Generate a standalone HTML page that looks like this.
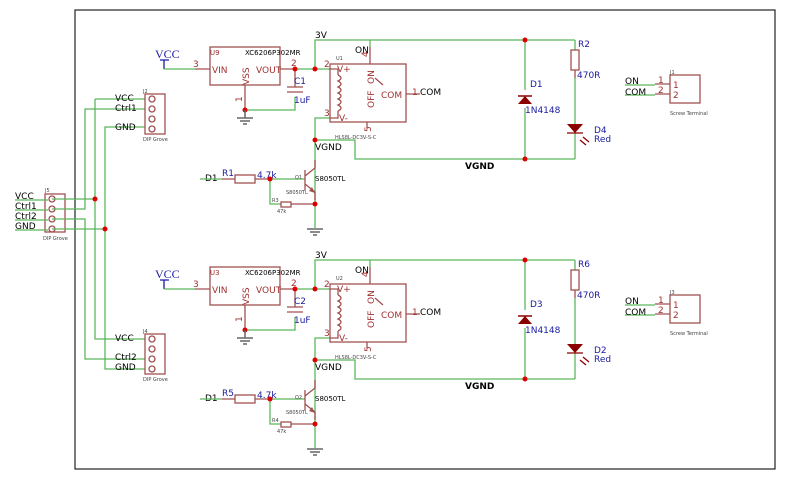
<!DOCTYPE html>
<html><head><meta charset="utf-8"><style>
html,body{margin:0;padding:0;background:#fff}
svg{display:block}
text{font-family:"DejaVu Sans","Liberation Sans",sans-serif}
.r{stroke:#a05050;fill:none;stroke-width:1.3}
.g{stroke:#5cb85c;fill:none;stroke-width:1.3}
.k{font-size:9px;fill:#000}
.b{font-size:9px;fill:#1a1aa0}
.m{font-size:9px;fill:#a03030}
.t{font-size:5px;fill:#444}
.gn{stroke:#666;stroke-width:1.5}
.vcc{font-family:"Liberation Serif",serif !important;font-size:12px;fill:#1a1aa0}
</style></head><body>
<svg width="785" height="480" viewBox="0 0 785 480" xmlns="http://www.w3.org/2000/svg">
<rect x="75" y="10" width="700" height="459" fill="none" stroke="#222" stroke-width="1.2"/>

<!-- Left connector -->
<rect class="r" x="45" y="194" width="20" height="38"/>
<text class="t" x="45" y="192">J5</text>
<g class="r"><circle cx="52" cy="199" r="3"/><circle cx="52" cy="209" r="3"/><circle cx="52" cy="219" r="3"/><circle cx="52" cy="229" r="3"/></g>
<text class="t" x="43" y="240">DIP Grove</text>
<text class="k" x="15" y="199">VCC</text><text class="k" x="15" y="209">Ctrl1</text><text class="k" x="15" y="219">Ctrl2</text><text class="k" x="15" y="229">GND</text>
<path class="g" d="M15 200H48 M15 210H48 M15 220H48 M15 230H48"/>
<path class="g" d="M52 199H95 M52 209H85V109H145 M52 219H85V359H145 M52 229H105V127H145 M95 99V339H145 M95 99H145 M105 229V369H145"/>
<circle cx="95" cy="199" r="2.5" fill="#d00"/><circle cx="105" cy="229" r="2.5" fill="#d00"/>

<rect class="r" x="145" y="94" width="20" height="40"/>
<text class="t" x="143" y="93">J2</text>
<g class="r"><circle cx="152" cy="99" r="3"/><circle cx="152" cy="109" r="3"/><circle cx="152" cy="119" r="3"/><circle cx="152" cy="129" r="3"/></g>
<text class="t" x="143" y="141">DIP Grove</text>
<text class="k" x="115" y="101">VCC</text><text class="k" x="115" y="111">Ctrl1</text><text class="k" x="115" y="130">GND</text>

<rect class="r" x="145" y="334" width="20" height="40"/>
<text class="t" x="143" y="333">J4</text>
<g class="r"><circle cx="152" cy="339" r="3"/><circle cx="152" cy="349" r="3"/><circle cx="152" cy="359" r="3"/><circle cx="152" cy="369" r="3"/></g>
<text class="t" x="143" y="381">DIP Grove</text>
<text class="k" x="115" y="341">VCC</text><text class="k" x="115" y="360">Ctrl2</text><text class="k" x="115" y="370">GND</text>

<g id="top">
<text class="vcc" x="155" y="58">VCC</text>
<path d="M160 60H169 M164 60V69" stroke="#1a1aa0" stroke-width="1.3"/>
<path class="g" d="M164 69H195"/>
<rect class="r" x="210" y="47" width="70" height="38"/>
<path class="r" d="M195 69H210 M280 69H295 M245 85V110"/>
<text x="210" y="55" style="font-size:7px" fill="#a03030">U9</text><text x="245" y="55" style="font-size:7px" fill="#000">XC6206P302MR</text>
<text class="m" x="193" y="67">3</text><text class="m" x="212" y="73">VIN</text><text class="m" x="256" y="73">VOUT</text><text class="m" x="291" y="66">2</text>
<text class="m" transform="translate(249,85) rotate(-90)">VSS</text>
<text class="m" transform="translate(242,102) rotate(-90)">1</text>
<path class="g" d="M295 69H330 M245 110H295V97 M315 69V40H575 M330 118H315V205 M315 140H355V159H575 M315 205V228"/>
<path class="r" d="M295 69V87 M287 87H303 M287 92H303"/>
<text class="b" x="294" y="84">C1</text><text class="b" x="294" y="103">1uF</text>
<circle cx="295" cy="69" r="2.5" fill="#d00"/><circle cx="315" cy="69" r="2.5" fill="#d00"/><circle cx="245" cy="110" r="2.5" fill="#d00"/>
<path class="gn" d="M237 118H253 M240 121H250 M243 124H247 M245 110V118"/>
<text class="k" x="315" y="38">3V</text>
<rect class="r" x="330" y="64" width="76" height="58"/>
<text class="t" x="336" y="60">U1</text>
<text class="m" x="324" y="67">2</text><text class="m" x="337" y="72">V+</text>
<text class="m" x="324" y="116">3</text><text class="m" x="339" y="121">V-</text>
<path class="r" d="M338 75 q6 3 0 6 q6 3 0 6 q6 3 0 6 q6 3 0 6 q6 3 0 6 q6 3 0 6 M330 69H338V75 M338 111V118H330"/>
<path class="g" d="M370 40V47"/>
<path class="r" d="M370 47V64 M367 122V128 M406 94H420 M383 85L375 78"/>
<text class="k" x="355" y="53">ON</text>
<text class="m" transform="translate(368,57) rotate(-90)">4</text>
<text class="m" transform="translate(374,84) rotate(-90)">ON</text>
<text class="m" transform="translate(374,108) rotate(-90)">OFF</text>
<text class="m" transform="translate(371,132) rotate(-90)">5</text>
<text class="m" x="381" y="98">COM</text>
<text class="m" x="412" y="95">1</text><text class="k" x="420" y="95">COM</text>
<text class="t" x="335" y="139">HLS8L-DC3V-S-C</text>
<text class="k" x="315" y="150">VGND</text>
<circle cx="315" cy="140" r="2.5" fill="#d00"/>
<path class="g" d="M525 40V90 M525 108V159 M575 40V50 M575 78V124 M575 133V159"/>
<path d="M518 96H532" stroke="#8b0000" stroke-width="1.5"/>
<polygon points="525,96 518,104 532,104" fill="#8b0000"/>
<text class="b" x="530" y="87">D1</text><text class="b" x="525" y="113">1N4148</text>
<circle cx="525" cy="40" r="2.5" fill="#d00"/><circle cx="525" cy="159" r="2.5" fill="#d00"/>
<text class="k" x="465" y="169" font-weight="bold">VGND</text>
<rect class="r" x="571" y="50" width="8" height="20"/>
<path class="r" d="M575 70V78"/>
<text class="b" x="578" y="47">R2</text><text class="b" x="577" y="78">470R</text>
<polygon points="567,124 583,124 575,133" fill="#8b0000"/>
<path d="M567 133H583 M583 137L589 142 M580 140L586 145" stroke="#8b0000" stroke-width="1.3"/>
<text class="b" x="594" y="133">D4</text><text class="b" x="594" y="142">Red</text>
<rect class="r" x="670" y="75" width="30" height="28"/>
<text class="t" x="670" y="74">J1</text>
<path class="r" d="M655 84H670 M655 94H670"/>
<path class="g" d="M625 85H655 M625 95H655"/>
<text class="m" x="658" y="83">1</text><text class="m" x="658" y="93">2</text>
<text class="m" x="673" y="88">1</text><text class="m" x="673" y="98">2</text>
<text class="k" x="625" y="84">ON</text><text class="k" x="625" y="95">COM</text>
<text class="t" x="670" y="115">Screw Terminal</text>
<text class="k" x="205" y="181">D1</text>
<path class="g" d="M200 179H222 M270 179H305 M270 179V204H281"/>
<rect class="r" x="235" y="175" width="20" height="8"/>
<path class="r" d="M222 179H235 M255 179H270 M291 204H315 M305 170V190 M305 176L315 168V160 M305 184L315 192V200"/>
<polygon points="315,193 309,191 312,187" fill="#a05050"/>
<text class="b" x="222" y="176">R1</text><text class="b" x="257" y="178">4.7k</text>
<text class="t" x="295" y="179">Q1</text><text class="k" x="315" y="181" style="font-size:7px">S8050TL</text>
<text class="t" x="286" y="194">S8050TL</text>
<rect class="r" x="281" y="202" width="10" height="5"/>
<text class="t" x="272" y="202">R3</text><text class="t" x="277" y="213">47k</text>
<circle cx="270" cy="179" r="2.5" fill="#d00"/><circle cx="315" cy="204" r="2.5" fill="#d00"/>
<path class="gn" d="M307 229H323 M310 232H320 M313 235H317"/>
</g>

<g transform="translate(0,220)">
<text class="vcc" x="155" y="58">VCC</text>
<path d="M160 60H169 M164 60V69" stroke="#1a1aa0" stroke-width="1.3"/>
<path class="g" d="M164 69H195"/>
<rect class="r" x="210" y="47" width="70" height="38"/>
<path class="r" d="M195 69H210 M280 69H295 M245 85V110"/>
<text x="210" y="55" style="font-size:7px" fill="#a03030">U3</text><text x="245" y="55" style="font-size:7px" fill="#000">XC6206P302MR</text>
<text class="m" x="193" y="67">3</text><text class="m" x="212" y="73">VIN</text><text class="m" x="256" y="73">VOUT</text><text class="m" x="291" y="66">2</text>
<text class="m" transform="translate(249,85) rotate(-90)">VSS</text>
<text class="m" transform="translate(242,102) rotate(-90)">1</text>
<path class="g" d="M295 69H330 M245 110H295V97 M315 69V40H575 M330 118H315V205 M315 140H355V159H575 M315 205V228"/>
<path class="r" d="M295 69V87 M287 87H303 M287 92H303"/>
<text class="b" x="294" y="84">C2</text><text class="b" x="294" y="103">1uF</text>
<circle cx="295" cy="69" r="2.5" fill="#d00"/><circle cx="315" cy="69" r="2.5" fill="#d00"/><circle cx="245" cy="110" r="2.5" fill="#d00"/>
<path class="gn" d="M237 118H253 M240 121H250 M243 124H247 M245 110V118"/>
<text class="k" x="315" y="38">3V</text>
<rect class="r" x="330" y="64" width="76" height="58"/>
<text class="t" x="336" y="60">U2</text>
<text class="m" x="324" y="67">2</text><text class="m" x="337" y="72">V+</text>
<text class="m" x="324" y="116">3</text><text class="m" x="339" y="121">V-</text>
<path class="r" d="M338 75 q6 3 0 6 q6 3 0 6 q6 3 0 6 q6 3 0 6 q6 3 0 6 q6 3 0 6 M330 69H338V75 M338 111V118H330"/>
<path class="g" d="M370 40V47"/>
<path class="r" d="M370 47V64 M367 122V128 M406 94H420 M383 85L375 78"/>
<text class="k" x="355" y="53">ON</text>
<text class="m" transform="translate(368,57) rotate(-90)">4</text>
<text class="m" transform="translate(374,84) rotate(-90)">ON</text>
<text class="m" transform="translate(374,108) rotate(-90)">OFF</text>
<text class="m" transform="translate(371,132) rotate(-90)">5</text>
<text class="m" x="381" y="98">COM</text>
<text class="m" x="412" y="95">1</text><text class="k" x="420" y="95">COM</text>
<text class="t" x="335" y="139">HLS8L-DC3V-S-C</text>
<text class="k" x="315" y="150">VGND</text>
<circle cx="315" cy="140" r="2.5" fill="#d00"/>
<path class="g" d="M525 40V90 M525 108V159 M575 40V50 M575 78V124 M575 133V159"/>
<path d="M518 96H532" stroke="#8b0000" stroke-width="1.5"/>
<polygon points="525,96 518,104 532,104" fill="#8b0000"/>
<text class="b" x="530" y="87">D3</text><text class="b" x="525" y="113">1N4148</text>
<circle cx="525" cy="40" r="2.5" fill="#d00"/><circle cx="525" cy="159" r="2.5" fill="#d00"/>
<text class="k" x="465" y="169" font-weight="bold">VGND</text>
<rect class="r" x="571" y="50" width="8" height="20"/>
<path class="r" d="M575 70V78"/>
<text class="b" x="578" y="47">R6</text><text class="b" x="577" y="78">470R</text>
<polygon points="567,124 583,124 575,133" fill="#8b0000"/>
<path d="M567 133H583 M583 137L589 142 M580 140L586 145" stroke="#8b0000" stroke-width="1.3"/>
<text class="b" x="594" y="133">D2</text><text class="b" x="594" y="142">Red</text>
<rect class="r" x="670" y="75" width="30" height="28"/>
<text class="t" x="670" y="74">J3</text>
<path class="r" d="M655 84H670 M655 94H670"/>
<path class="g" d="M625 85H655 M625 95H655"/>
<text class="m" x="658" y="83">1</text><text class="m" x="658" y="93">2</text>
<text class="m" x="673" y="88">1</text><text class="m" x="673" y="98">2</text>
<text class="k" x="625" y="84">ON</text><text class="k" x="625" y="95">COM</text>
<text class="t" x="670" y="115">Screw Terminal</text>
<text class="k" x="205" y="181">D1</text>
<path class="g" d="M200 179H222 M270 179H305 M270 179V204H281"/>
<rect class="r" x="235" y="175" width="20" height="8"/>
<path class="r" d="M222 179H235 M255 179H270 M291 204H315 M305 170V190 M305 176L315 168V160 M305 184L315 192V200"/>
<polygon points="315,193 309,191 312,187" fill="#a05050"/>
<text class="b" x="222" y="176">R5</text><text class="b" x="257" y="178">4.7k</text>
<text class="t" x="295" y="179">Q2</text><text class="k" x="315" y="181" style="font-size:7px">S8050TL</text>
<text class="t" x="286" y="194">S8050TL</text>
<rect class="r" x="281" y="202" width="10" height="5"/>
<text class="t" x="272" y="202">R4</text><text class="t" x="277" y="213">47k</text>
<circle cx="270" cy="179" r="2.5" fill="#d00"/><circle cx="315" cy="204" r="2.5" fill="#d00"/>
<path class="gn" d="M307 229H323 M310 232H320 M313 235H317"/>
</g>
</svg>
</body></html>
